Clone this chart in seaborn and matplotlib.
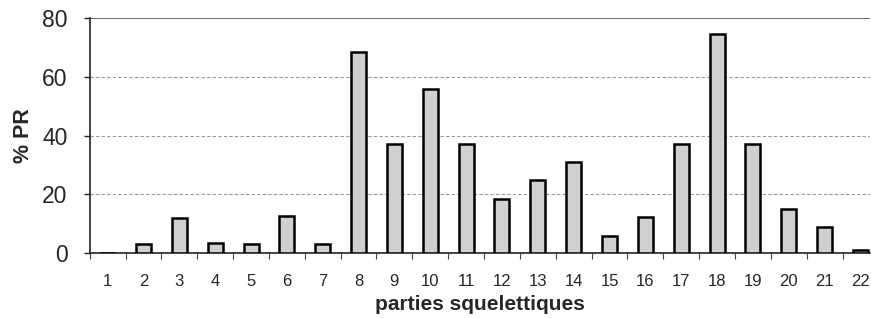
import numpy as np
import pandas as pd
import matplotlib
matplotlib.use("Agg")
import matplotlib.pyplot as plt
import seaborn as sns

# données
parties = [str(i) for i in range(1, 23)]
pct_pr = [0, 3.1, 11.9, 3.6, 3.1, 12.5, 3.1, 68.6, 37.3, 56.0, 37.3, 18.4,
          24.8, 30.9, 5.9, 12.2, 37.3, 74.7, 37.3, 15.0, 8.8, 1.2]
y_ticks = [0, 20, 40, 60, 80]

df = pd.DataFrame({"partie": parties, "pr": pct_pr})

sns.set_style("white")
plt.rcParams["font.family"] = ["Liberation Sans", "DejaVu Sans"]

fig = plt.figure(figsize=(8.71, 3.18), dpi=100)
ax = fig.add_axes([0.103, 0.204, 0.896, 0.739])

sns.barplot(data=df, x="partie", y="pr", color="#d0d0d0", width=0.42,
            edgecolor="black", linewidth=1.8, saturation=1, ax=ax, zorder=3)

ax.set_ylim(0, 80)
ax.set_xlim(-0.47, 21.27)
ax.set_yticks(y_ticks)
for v in y_ticks[1:-1]:
    ax.axhline(v, color="#9a9a9a", lw=0.8, ls=(0, (3, 2)), zorder=1)
ax.axhline(80, color="#555555", lw=1.2, zorder=1)

for s in ["top", "right"]:
    ax.spines[s].set_visible(False)
ax.spines["left"].set_color("#222222")
ax.spines["left"].set_linewidth(1.2)
ax.spines["bottom"].set_color("#222222")
ax.spines["bottom"].set_linewidth(1.2)

ax.tick_params(axis="y", labelsize=16.5, length=4, width=1, left=True,
               color="#222222", pad=12)
ax.tick_params(axis="x", labelsize=12, length=0, pad=15)
ax.set_xticks(np.arange(-0.5, 21.5, 1), minor=True)
ax.tick_params(axis="x", which="minor", bottom=True, length=4, width=0.8,
               color="#444444")

ax.set_xlabel("parties squelettiques", fontsize=15, fontweight="bold",
              labelpad=4)
ax.set_ylabel("% PR", fontsize=15.5, fontweight="bold", labelpad=6)

fig.savefig("out.png", dpi=100)
